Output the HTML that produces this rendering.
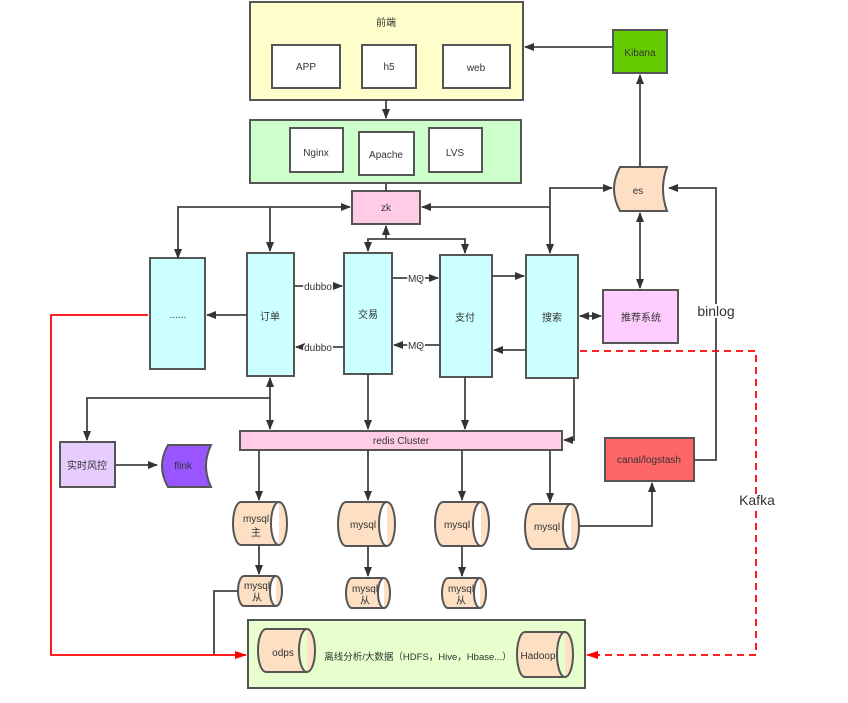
<!DOCTYPE html>
<html><head><meta charset="utf-8"><style>
html,body{margin:0;padding:0;background:#fff;}
svg text{font-family:"Liberation Sans","Noto Sans CJK SC",sans-serif;fill:#333;}
</style></head><body>
<svg width="848" height="698" viewBox="0 0 848 698" xmlns="http://www.w3.org/2000/svg">
<defs>
<marker id="a" markerWidth="10" markerHeight="8" refX="9" refY="4" orient="auto" markerUnits="userSpaceOnUse"><path d="M0,0 L10,4 L0,8 Z" fill="#333"/></marker>
<marker id="as" markerWidth="10" markerHeight="8" refX="1" refY="4" orient="auto" markerUnits="userSpaceOnUse"><path d="M10,0 L0,4 L10,8 Z" fill="#333"/></marker>
<marker id="r" markerWidth="12" markerHeight="8" refX="11" refY="4" orient="auto" markerUnits="userSpaceOnUse"><path d="M0,0 L12,4 L0,8 Z" fill="#f00"/></marker>
</defs>
<g stroke="#555" stroke-width="2">
<rect x="250" y="2" width="273" height="98" fill="#ffffcc"/>
<rect x="272" y="45" width="68" height="43" fill="#fff"/>
<rect x="362" y="45" width="54" height="43" fill="#fff"/>
<rect x="443" y="45" width="67" height="43" fill="#fff"/>
<rect x="250" y="120" width="271" height="63" fill="#ccffcc"/>
<rect x="290" y="128" width="53" height="44" fill="#fff"/>
<rect x="359" y="132" width="55" height="43" fill="#fff"/>
<rect x="429" y="128" width="53" height="44" fill="#fff"/>
<rect x="352" y="191" width="68" height="33" fill="#ffcce6"/>
<rect x="613" y="30" width="54" height="43" fill="#66cc00"/>
<path d="M620,167 L667,167 Q659,189 667,211 L620,211 Q608,189 620,167 Z" fill="#fde0c4"/>
<rect x="150" y="258" width="55" height="111" fill="#ccffff"/>
<rect x="247" y="253" width="47" height="123" fill="#ccffff"/>
<rect x="344" y="253" width="48" height="121" fill="#ccffff"/>
<rect x="440" y="255" width="52" height="122" fill="#ccffff"/>
<rect x="526" y="255" width="52" height="123" fill="#ccffff"/>
<rect x="603" y="290" width="75" height="53" fill="#ffccff"/>
<rect x="240" y="431" width="322" height="19" fill="#ffcce6"/>
<rect x="60" y="442" width="55" height="45" fill="#e6ccff"/>
<path d="M168,445 L211,445 Q201,466 211,487 L168,487 Q156,466 168,445 Z" fill="#9955ff"/>
<rect x="605" y="438" width="89" height="43" fill="#ff6666"/>
<rect x="248" y="620" width="337" height="68" fill="#e6ffcc"/>
</g>
<g stroke="#555" stroke-width="2" fill="#fde0c4">
<path d="M241,502 L279,502 A8,21.5 0 0 1 279,545 L241,545 A8,21.5 0 0 1 241,502 Z M279,502 A8,21.5 0 0 0 279,545"/>
<path d="M346,502 L387,502 A8,22 0 0 1 387,546 L346,546 A8,22 0 0 1 346,502 Z M387,502 A8,22 0 0 0 387,546"/>
<path d="M443,502 L481,502 A8,22 0 0 1 481,546 L443,546 A8,22 0 0 1 443,502 Z M481,502 A8,22 0 0 0 481,546"/>
<path d="M533,504 L571,504 A8,22.5 0 0 1 571,549 L533,549 A8,22.5 0 0 1 533,504 Z M571,504 A8,22.5 0 0 0 571,549"/>
<path d="M244,576 L276,576 A6,15 0 0 1 276,606 L244,606 A6,15 0 0 1 244,576 Z M276,576 A6,15 0 0 0 276,606"/>
<path d="M352,578 L384,578 A6,15 0 0 1 384,608 L352,608 A6,15 0 0 1 352,578 Z M384,578 A6,15 0 0 0 384,608"/>
<path d="M448,578 L480,578 A6,15 0 0 1 480,608 L448,608 A6,15 0 0 1 448,578 Z M480,578 A6,15 0 0 0 480,608"/>
<path d="M266,629 L307,629 A8,21.5 0 0 1 307,672 L266,672 A8,21.5 0 0 1 266,629 Z M307,629 A8,21.5 0 0 0 307,672"/>
<path d="M525,632 L565,632 A8,22.5 0 0 1 565,677 L525,677 A8,22.5 0 0 1 525,632 Z M565,632 A8,22.5 0 0 0 565,677"/>
</g>
<g stroke="#444" stroke-width="1.8" fill="none">
<line x1="386" y1="100" x2="386" y2="118" marker-end="url(#a)"/>
<line x1="386" y1="183" x2="386" y2="191"/>
<line x1="613" y1="47" x2="525" y2="47" marker-end="url(#a)"/>
<line x1="640" y1="167" x2="640" y2="75" marker-end="url(#a)"/>
<polyline points="178,258 178,207 350,207" marker-start="url(#as)" marker-end="url(#a)"/>
<line x1="270" y1="207" x2="270" y2="251" marker-end="url(#a)"/>
<polyline points="422,207 550,207 550,253" marker-start="url(#as)" marker-end="url(#a)"/>
<polyline points="550,207 550,188 612,188" marker-end="url(#a)"/>
<line x1="386" y1="239" x2="386" y2="226" marker-end="url(#a)"/>
<polyline points="368,251 368,239 465,239 465,253" marker-start="url(#as)" marker-end="url(#a)"/>
<line x1="294" y1="286" x2="342" y2="286" marker-end="url(#a)"/>
<line x1="344" y1="347" x2="296" y2="347" marker-end="url(#a)"/>
<line x1="392" y1="278" x2="438" y2="278" marker-end="url(#a)"/>
<line x1="440" y1="345" x2="394" y2="345" marker-end="url(#a)"/>
<line x1="492" y1="276" x2="524" y2="276" marker-end="url(#a)"/>
<line x1="526" y1="350" x2="494" y2="350" marker-end="url(#a)"/>
<line x1="247" y1="315" x2="207" y2="315" marker-end="url(#a)"/>
<line x1="580" y1="316" x2="601" y2="316" marker-start="url(#as)" marker-end="url(#a)"/>
<line x1="640" y1="213" x2="640" y2="288" marker-start="url(#as)" marker-end="url(#a)"/>
<line x1="270" y1="378" x2="270" y2="429" marker-start="url(#as)" marker-end="url(#a)"/>
<line x1="368" y1="374" x2="368" y2="429" marker-end="url(#a)"/>
<line x1="465" y1="377" x2="465" y2="429" marker-end="url(#a)"/>
<polyline points="574,378 574,440 564,440" marker-end="url(#a)"/>
<polyline points="270,398 87,398 87,440" marker-end="url(#a)"/>
<line x1="115" y1="465" x2="157" y2="465" marker-end="url(#a)"/>
<line x1="259" y1="450" x2="259" y2="500" marker-end="url(#a)"/>
<line x1="368" y1="450" x2="368" y2="500" marker-end="url(#a)"/>
<line x1="462" y1="450" x2="462" y2="500" marker-end="url(#a)"/>
<line x1="550" y1="450" x2="550" y2="502" marker-end="url(#a)"/>
<line x1="259" y1="545" x2="259" y2="574" marker-end="url(#a)"/>
<line x1="368" y1="546" x2="368" y2="576" marker-end="url(#a)"/>
<line x1="462" y1="546" x2="462" y2="576" marker-end="url(#a)"/>
<polyline points="579,526 652,526 652,483" marker-end="url(#a)"/>
<polyline points="694,460 716,460 716,188 669,188" marker-end="url(#a)"/>
<polyline points="238,591 214,591 214,655"/>
</g>
<g stroke="#f00" stroke-width="1.8" fill="none">
<polyline points="148,315 51,315 51,655 246,655" marker-end="url(#r)"/>
<polyline points="580,351 756,351 756,655 587,655" stroke-dasharray="7,5" marker-end="url(#r)"/>
</g>
<g font-size="10" text-anchor="middle">
<text x="386" y="26">前端</text>
<text x="306" y="70">APP</text>
<text x="389" y="70">h5</text>
<text x="476" y="71">web</text>
<text x="316" y="156">Nginx</text>
<text x="386" y="158">Apache</text>
<text x="455" y="156">LVS</text>
<text x="386" y="211">zk</text>
<text x="640" y="56">Kibana</text>
<text x="638" y="194">es</text>
<text x="178" y="318">......</text>
<text x="270" y="320">订单</text>
<text x="368" y="318">交易</text>
<text x="465" y="321">支付</text>
<text x="552" y="321">搜索</text>
<text x="641" y="321">推荐系统</text>
<text x="318" y="290" style="paint-order:stroke" stroke="#fff" stroke-width="3">dubbo</text>
<text x="318" y="351" style="paint-order:stroke" stroke="#fff" stroke-width="3">dubbo</text>
<text x="416" y="282" style="paint-order:stroke" stroke="#fff" stroke-width="3">MQ</text>
<text x="416" y="349" style="paint-order:stroke" stroke="#fff" stroke-width="3">MQ</text>
<text x="401" y="444">redis Cluster</text>
<text x="87" y="469">实时风控</text>
<text x="183" y="469">flink</text>
<text x="649" y="463">canal/logstash</text>
<text x="256" y="522">mysql</text>
<text x="256" y="536">主</text>
<text x="363" y="528">mysql</text>
<text x="457" y="528">mysql</text>
<text x="547" y="530">mysql</text>
<text x="257" y="589">mysql</text>
<text x="257" y="601">从</text>
<text x="365" y="592">mysql</text>
<text x="365" y="604">从</text>
<text x="461" y="592">mysql</text>
<text x="461" y="604">从</text>
<text x="283" y="656">odps</text>
<text x="418" y="660" font-size="9.5" style="paint-order:stroke" stroke="#e6ffcc" stroke-width="3">离线分析/大数据（HDFS，Hive，Hbase...）</text>
<text x="538" y="659">Hadoop</text>
</g>
<text x="716" y="316" font-size="14" text-anchor="middle" style="paint-order:stroke" stroke="#fff" stroke-width="4">binlog</text>
<text x="757" y="505" font-size="14" text-anchor="middle" style="paint-order:stroke" stroke="#fff" stroke-width="4">Kafka</text>
</svg>
</body></html>
